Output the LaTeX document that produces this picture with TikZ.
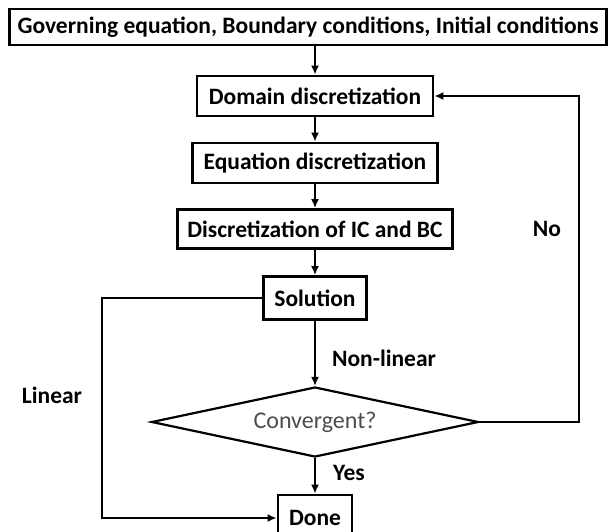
\documentclass[tikz,border=0pt]{standalone}
\usepackage{fontspec}
\setmainfont{Carlito}
\usetikzlibrary {arrows.meta, positioning, shapes.geometric}
\tikzset{
    >={Latex[length=9pt, width=8pt]}
}

\begin{document}
\begin{tikzpicture}[x=1pt, y=-1pt, line width=2.8pt,
    box/.style={draw, rectangle, inner sep=0pt, font=\bfseries\fontsize{23.5}{28}\selectfont},
    lbl/.style={font=\bfseries\fontsize{23.5}{28}\selectfont}]
\useasboundingbox (0,0) rectangle (611,531);

% boxes
\node[box, minimum width=597pt, minimum height=36pt] (gov) at (308, 27)
    {Governing equation, Boundary conditions, Initial conditions};
\node[box, minimum width=236pt, minimum height=40pt] (dom) at (315, 96) {Domain discretization};
\node[box, minimum width=245pt, minimum height=40pt] (eqn) at (315, 163) {Equation discretization};
\node[box, minimum width=275pt, minimum height=39pt] (disc) at (315, 229) {Discretization of IC and BC};
\node[box, minimum width=103pt, minimum height=43pt] (sol) at (315, 298) {Solution};
% check
\node[draw, diamond, aspect=4.67, inner sep=0pt, line width=2.2pt,
    minimum width=327pt, minimum height=70pt, text=black!70,
    font=\fontsize{24}{28}\selectfont] (conv) at (315, 422) {Convergent?};
\node[box, minimum width=74pt, minimum height=46pt] (done) at (315, 518) {Done};

% side lines
\coordinate (lft) at (102, 0);
\coordinate (rgt) at (579, 0);

% main line
\draw[->] (gov.south -| dom.north) -- (dom.north);
\draw[->] (dom.south) -- (eqn.north);
\draw[->] (eqn.south) -- (disc.north);
\draw[->] (disc.south) -- (sol.north);
\draw[->] (sol.south) -- (conv.north);
\draw[->] (conv.south) -- (done.north);
% loops
\draw[->] (sol.west) -- (sol.west -| lft) -- (done.west -| lft) -- (done.west);
\draw[->] (conv.east) -- (conv.east -| rgt) -- (dom.east -| rgt) -- (dom.east);

% labels
\node[lbl] (nonlin) at (384, 358) {Non-linear};
\node[lbl] (yes) at (349, 473) {Yes};
\node[lbl] (lin) at (52, 395) {Linear};
\node[lbl] (no) at (547, 229) {No};
\end{tikzpicture}
\end{document}
